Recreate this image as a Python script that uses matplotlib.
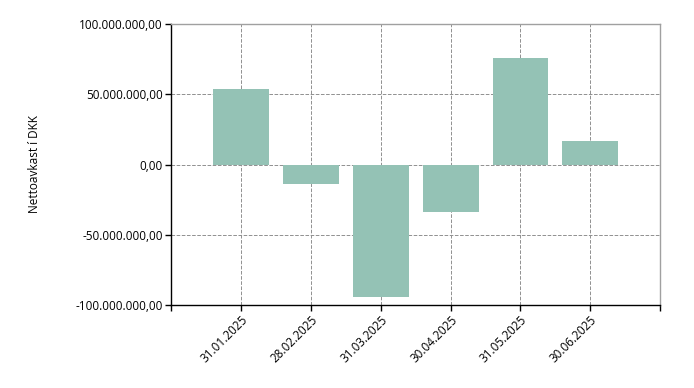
import matplotlib
matplotlib.use("Agg")
import matplotlib.pyplot as plt
import numpy as np

dates = ["31.01.2025", "28.02.2025", "31.03.2025", "30.04.2025", "31.05.2025", "30.06.2025"]
values = [54_000_000, -14_000_000, -94_500_000, -33_500_000, 75_500_000, 16_500_000]
yticks = [-100_000_000, -50_000_000, 0, 50_000_000, 100_000_000]


def fmt(v):
    s = f"{abs(v):,.2f}".replace(",", "X").replace(".", ",").replace("X", ".")
    return ("-" if v < 0 else "") + s


plt.rcParams["font.family"] = ["Open Sans", "DejaVu Sans"]

fig = plt.figure(figsize=(6.94, 3.88), dpi=100)
ax = fig.add_axes([0.2464, 0.214, 0.705, 0.724])

x = np.arange(len(dates))
ax.bar(x, values, width=0.8, color="#94c2b5", zorder=3)

ax.set_xlim(-1, 6)
ax.set_ylim(-100_000_000, 100_000_000)

ax.set_xticks(np.arange(-1, 7))
ax.set_xticklabels([""] + dates + [""], rotation=45, ha="right", rotation_mode="anchor", fontsize=8.5)
ax.set_yticks(yticks)
ax.set_yticklabels([fmt(v) for v in yticks], fontsize=8.5)
ax.tick_params(length=4, width=1, color="black", pad=2)

ax.grid(True, ls="--", lw=0.7, color="#909090", zorder=0)

for s in ["left", "bottom"]:
    ax.spines[s].set_color("black")
    ax.spines[s].set_linewidth(1)
for s in ["top", "right"]:
    ax.spines[s].set_color("#a0a0a0")
    ax.spines[s].set_linewidth(1)

fig.text(0.05, 0.576, "Nettoavkast í DKK", rotation=90, va="center", ha="center", fontsize=8.5)

fig.savefig("out.png", dpi=100)
